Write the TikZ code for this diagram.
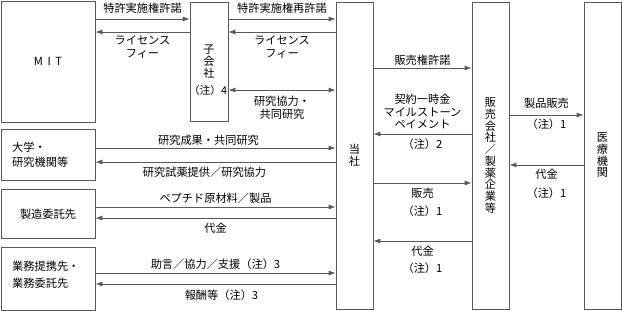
\documentclass[tikz,border=0pt]{standalone}
\usepackage{fontspec}
\setmainfont{Noto Sans CJK JP}
\usetikzlibrary{arrows.meta}

\begin{document}
\begin{tikzpicture}[x=1pt,y=-1pt,>={Latex[length=7pt,width=5pt]},
  box/.style={draw=black!65,line width=0.75pt,inner sep=0pt,align=center,
    font=\fontsize{11.2}{11.7}\selectfont},
  lab/.style={inner sep=0pt,align=center,font=\fontsize{11.2}{12.5}\selectfont},
  conn/.style={draw=black!65,line width=0.75pt}]
 \useasboundingbox (0,0) rectangle (622,311);
 % boxes
 \node[box,minimum width=94pt,minimum height=121pt] (mit) at (48,61.5) {M\hspace{4.5pt}I\hspace{4.5pt}T};
 \node[box,minimum width=38pt,minimum height=119pt,font=\fontsize{11.2}{12}\selectfont] (sub) at (209,62) {子\\会\\社};
 \node[lab,font=\fontsize{10.8}{12}\selectfont] (note4) at (208,90) {（注）4};
 \node[box,minimum width=94pt,minimum height=51pt] (univ) at (48,154.5) {};
 \node[lab,anchor=west,align=left] (univt) at (12,154.5) {大学・\\[2pt]研究機関等};
 \node[box,minimum width=94pt,minimum height=49pt] (mfg) at (48,214) {製造委託先};
 \node[box,minimum width=94pt,minimum height=63pt] (biz) at (48,278.5) {};
 \node[lab,anchor=west,align=left] (bizt) at (12,275) {業務提携先・\\[4.5pt]業務委託先};
 \node[box,minimum width=37pt,minimum height=307pt] (ours) at (354.5,155.5) {当\\社};
 \node[box,minimum width=37pt,minimum height=307pt] (sell) at (490.5,155.5) {販\\売\\会\\社\\／\\製\\薬\\企\\業\\等};
 \node[box,minimum width=37pt,minimum height=307pt] (hosp) at (602.5,155.5) {医\\療\\機\\関};
 % MIT / subsidiary / ours
 \draw[conn,->] (mit.east |- 0,19) -- node[lab,midway,yshift=11pt]{特許実施権許諾} (sub.west |- 0,19);
 \draw[conn,->] (sub.west |- 0,32) -- node[lab,midway,yshift=-15pt]{ライセンス\\フィー} (mit.east |- 0,32);
 \draw[conn,->] (sub.east |- 0,19) -- node[lab,midway,yshift=11pt]{特許実施権再許諾} (ours.west |- 0,19);
 \draw[conn,->] (ours.west |- 0,32) -- node[lab,midway,yshift=-15pt]{ライセンス\\フィー} (sub.east |- 0,32);
 \draw[conn,<->] (sub.east |- 0,90) -- node[lab,midway,yshift=-18pt]{研究協力・\\共同研究} (ours.west |- 0,90);
 % left partners
 \draw[conn,->] (univ.east |- 0,148) -- node[lab,midway,yshift=8pt,xshift=-7pt]{研究成果・共同研究} (ours.west |- 0,148);
 \draw[conn,->] (ours.west |- 0,162) -- node[lab,midway,yshift=-10pt,xshift=-11pt]{研究試薬提供／研究協力} (univ.east |- 0,162);
 \draw[conn,->] (mfg.east |- 0,207) -- node[lab,midway,yshift=9pt]{ペプチド原材料／製品} (ours.west |- 0,207);
 \draw[conn,->] (ours.west |- 0,218) -- node[lab,midway,yshift=-10pt]{代金} (mfg.east |- 0,218);
 \draw[conn,->] (biz.east |- 0,273) -- node[lab,midway,yshift=9pt]{助言／協力／支援（注）3} (ours.west |- 0,273);
 \draw[conn,->] (ours.west |- 0,284) -- node[lab,midway,yshift=-11pt,xshift=6pt]{報酬等（注）3} (biz.east |- 0,284);
 % ours / sellers
 \draw[conn,->] (ours.east |- 0,68) -- node[lab,midway,yshift=8pt]{販売権許諾} (sell.west |- 0,68);
 \draw[conn,->] (sell.west |- 0,134) -- node[lab,midway,yshift=22.5pt]{契約一時金\\マイルストーン\\ペイメント}
   node[lab,midway,yshift=-10pt]{（注）2} (ours.east |- 0,134);
 \draw[conn,->] (ours.east |- 0,183) -- node[lab,midway,yshift=-19pt]{販売\\[5.5pt]（注）1} (sell.west |- 0,183);
 \draw[conn,->] (sell.west |- 0,241) -- node[lab,midway,yshift=-18.5pt]{代金\\[4.5pt]（注）1} (ours.east |- 0,241);
 % sellers / hospitals
 \draw[conn,->] (sell.east |- 0,115) -- node[lab,midway,yshift=12pt]{製品販売}
   node[lab,midway,yshift=-9pt]{（注）1} (hosp.west |- 0,115);
 \draw[conn,->] (hosp.west |- 0,165) -- node[lab,midway,yshift=-18.5pt]{代金\\[6.5pt]（注）1} (sell.east |- 0,165);
\end{tikzpicture}
\end{document}
